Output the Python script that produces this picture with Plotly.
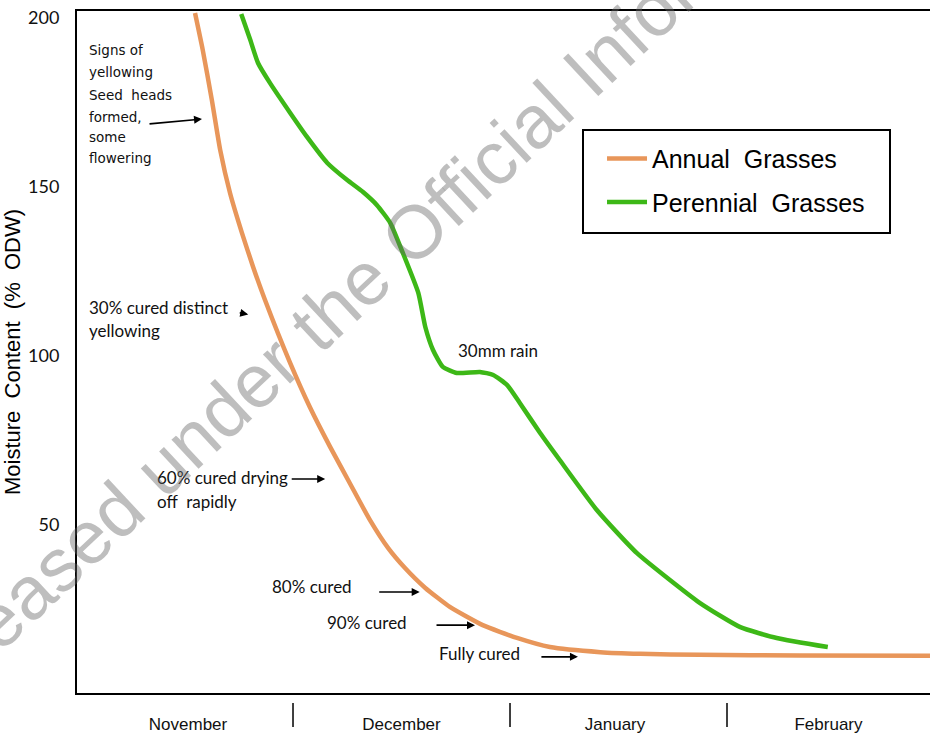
import plotly.graph_objects as go

# ---- data (x = days since 1 November, y = moisture content % ODW) ----
annual_day = [16.0, 17.1, 18.4, 19.6, 21.0, 22.7, 24.3, 26.0, 29.6, 32.4, 35.3, 38.1,
              41.0, 43.6, 46.0, 48.9, 52.4, 57.1, 62.0, 66.7, 73.9, 79.6, 88.1, 102.4, 121.0]
annual_mc = [201.4, 190.5, 175.7, 160.8, 148.1, 136.3, 126.2, 116.4, 97.7, 84.7, 72.9, 62.2,
             51.2, 42.9, 37.0, 31.1, 25.5, 20.1, 16.3, 13.6, 12.1, 11.6, 11.3, 11.1, 11.0]

perennial_day = [22.6, 23.9, 25.0, 26.7, 29.6, 32.0, 34.9, 37.7, 40.0, 42.0, 43.9, 45.7,
                 47.9, 48.9, 50.0, 51.4, 53.4, 56.7, 58.6, 60.6, 62.4, 65.3, 68.1, 73.4,
                 79.1, 88.1, 93.9, 99.1, 106.4]
perennial_mc = [201.1, 193.4, 186.6, 180.7, 171.8, 164.7, 157.0, 152.0, 148.4, 144.5, 139.2, 130.3,
                118.5, 108.4, 101.6, 96.6, 94.8, 95.1, 94.2, 91.2, 85.9, 77.0, 69.0, 54.2,
                41.5, 26.7, 19.5, 16.3, 13.6]

month_names = ["November", "December", "January", "February"]
month_mid = [15.0, 45.5, 76.0, 106.5]
month_bounds = [30, 61, 92]
y_ticks = [50, 100, 150, 200]

# text labels: (text, day, mc)
labels = [
    ("Signs of", 0.6, 190.5),
    ("yellowing", 0.6, 183.9),
    ("Seed  heads", 0.6, 177.1),
    ("formed,", 0.6, 170.6),
    ("some", 0.6, 164.7),
    ("flowering", 0.6, 158.5),
]
labels2 = [
    ("30% cured distinct", 0.6, 114.3),
    ("yellowing", 0.6, 107.5),
    ("60% cured drying", 10.3, 63.7),
    ("off  rapidly", 10.3, 56.6),
    ("80% cured", 26.7, 31.4),
    ("90% cured", 34.6, 21.0),
    ("Fully cured", 50.6, 11.8),
    ("30mm rain", 53.3, 101.3),
]
# arrows: (head day, head mc, tail dx px, tail dy px)
arrows = [
    (17.0, 170.0, -54, 5),
    (23.6, 112.1, -10, -2),
    (34.6, 63.4, -35, 0),
    (48.1, 29.9, -42, 0),
    (56.0, 20.1, -40, 0),
    (70.7, 10.7, -38, 0),
]

ORANGE = "#E8965A"
GREEN = "#3DB817"

fig = go.Figure()
fig.add_trace(go.Scatter(x=annual_day, y=annual_mc, mode="lines", name="Annual  Grasses",
                         line=dict(color=ORANGE, width=4.5, shape="spline", smoothing=0.5),
                         legendgroup="a"))
fig.add_trace(go.Scatter(x=perennial_day, y=perennial_mc, mode="lines", name="Perennial  Grasses",
                         line=dict(color=GREEN, width=4.5, shape="spline", smoothing=0.5),
                         legendgroup="p"))

annotations = []
for t, d, v in labels:
    annotations.append(dict(text=t, x=d, y=v, xref="x", yref="y", xanchor="left", yanchor="middle",
                            showarrow=False, font=dict(family="DejaVu Sans", size=13.5, color="#111")))
for t, d, v in labels2:
    annotations.append(dict(text=t, x=d, y=v, xref="x", yref="y", xanchor="left", yanchor="middle",
                            showarrow=False, font=dict(family="Lato", size=17, color="#111")))
for d, v, dx, dy in arrows:
    annotations.append(dict(text="", x=d, y=v, xref="x", yref="y", ax=dx, ay=dy,
                            showarrow=True, arrowhead=2, arrowsize=1, arrowwidth=1.6,
                            arrowcolor="black", standoff=0, startstandoff=0))
# watermark
annotations.append(dict(text="Released under the Official Information Act", x=0.403, y=0.685,
                        xref="paper", yref="paper", xanchor="center", yanchor="middle",
                        showarrow=False, textangle=-43,
                        font=dict(family="Liberation Sans", size=75, color="rgba(100,100,100,0.42)")))

shapes = []
for b in month_bounds:
    shapes.append(dict(type="line", x0=b, x1=b, xref="x", yref="paper", y0=-0.0147, y1=-0.05,
                       line=dict(color="black", width=1.5)))
# legend frame
shapes.append(dict(type="rect", xref="paper", yref="paper",
                   x0=(583 - 77) / 853, x1=(890 - 77) / 853,
                   y0=(693 - 233) / 682, y1=(693 - 130) / 682,
                   line=dict(color="black", width=2), fillcolor="white", layer="below"))

fig.update_layout(
    width=930, height=735,
    margin=dict(l=77, r=0, t=11, b=42),
    plot_bgcolor="white", paper_bgcolor="white",
    annotations=annotations, shapes=shapes,
    legend=dict(x=0.6155, y=0.817, xanchor="left", yanchor="top", bgcolor="rgba(0,0,0,0)",
                borderwidth=0, font=dict(family="Liberation Sans", size=25, color="black"),
                traceorder="grouped", tracegroupgap=8, itemwidth=40),
    xaxis=dict(range=[-0.86, 121], showline=True, linecolor="black", linewidth=2, mirror=True,
               showgrid=False, zeroline=False, tickvals=month_mid, ticktext=month_names, ticks="",
               ticklabelstandoff=15,
               tickfont=dict(family="Liberation Sans", size=17, color="#111")),
    yaxis=dict(range=[0, 202], showline=True, linecolor="black", linewidth=2, mirror=False,
               showgrid=False, zeroline=False, tickvals=y_ticks, ticks="", ticklabelstandoff=12,
               tickfont=dict(family="Lato", size=18, color="#111"), automargin=True,
               title=dict(text="Moisture  Content  (%  ODW)", standoff=4,
                          font=dict(family="Liberation Sans", size=22, color="black"))),
)

fig.write_html("out.html", config={"displayModeBar": False},
               post_script="document.body.style.margin='0px';")
